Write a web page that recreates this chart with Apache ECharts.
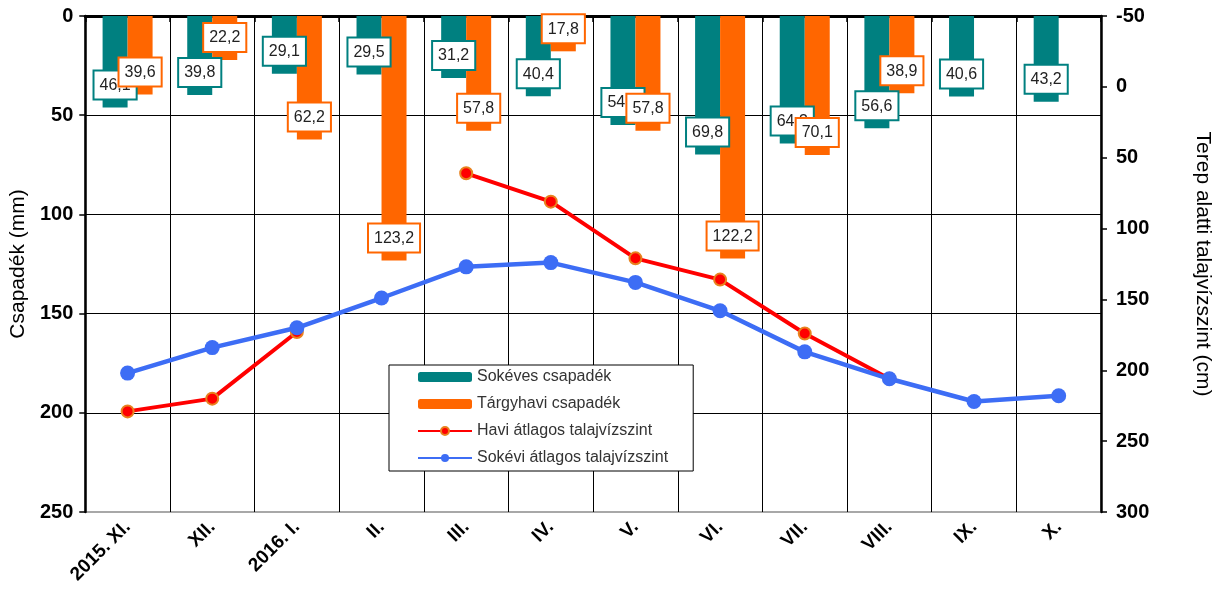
<!DOCTYPE html>
<html>
<head>
<meta charset="utf-8">
<script src="https://cdn.jsdelivr.net/npm/echarts@6/dist/echarts.min.js"></script>
<style>html,body{margin:0;padding:0;background:#fff}#c{width:1227px;height:598px}</style>
</head>
<body>
<div id="c"></div>
<script>
const categories = ['2015. XI.', 'XII.', '2016. I.', 'II.', 'III.', 'IV.', 'V.', 'VI.', 'VII.', 'VIII.', 'IX.', 'X.'];
const sokevesCsapadek = [46.1, 39.8, 29.1, 29.5, 31.2, 40.4, 54.9, 69.8, 64.3, 56.6, 40.6, 43.2];
const targyhaviCsapadek = [39.6, 22.2, 62.2, 123.2, 57.8, 17.8, 57.8, 122.2, 70.1, 38.9, null, null];
const haviTalajviz = [229, 220, 173, null, 61, 81, 121, 136, 174, 206, null, null];
const sokeviTalajviz = [202, 184, 170, 149, 127, 124, 138, 158, 187, 206, 222, 218];
const leftTicks = [0, 50, 100, 150, 200, 250];
const rightTicks = [-50, 0, 50, 100, 150, 200, 250, 300];

const FONT = 'Liberation Sans, Arial, sans-serif';
const fmt = p => (p.value == null ? '' : Number(p.value).toFixed(1).replace('.', ','));
const barLabel = (color) => ({
  show: true, position: 'insideBottom', distance: 9, formatter: fmt,
  backgroundColor: '#fff', borderColor: color, borderWidth: 2,
  padding: [6, 5, 5, 5], color: '#222', fontSize: 16, fontFamily: FONT
});

const chart = echarts.init(document.getElementById('c'));
chart.setOption({
  animation: false,
  backgroundColor: '#fff',
  textStyle: { fontFamily: FONT },
  grid: { left: 84, right: 126, top: 16, bottom: 86, show: true, borderColor: '#a8a8a8', borderWidth: 2 },
  legend: {
    orient: 'vertical', left: 389, top: 365,
    itemWidth: 54, itemHeight: 10, itemGap: 11,
    padding: [4, 25, 5, 28],
    borderColor: '#000', borderWidth: 1, backgroundColor: '#fff',
    textStyle: { fontSize: 16, color: '#333', fontFamily: FONT },
    data: ['Sokéves csapadék', 'Tárgyhavi csapadék', 'Havi átlagos talajvízszint', 'Sokévi átlagos talajvízszint']
  },
  xAxis: {
    type: 'category', data: categories,
    axisLine: { lineStyle: { color: '#000', width: 3 } },
    axisTick: { show: true, length: 6, lineStyle: { color: '#000', width: 1.5 } },
    splitLine: { show: true, showMinLine: false, showMaxLine: false, lineStyle: { color: '#000', width: 1 } },
    axisLabel: { rotate: 45, fontSize: 19, fontWeight: 'bold', color: '#000', margin: 12, fontFamily: FONT }
  },
  yAxis: [
    {
      type: 'value', inverse: true, min: leftTicks[0], max: leftTicks[leftTicks.length - 1], interval: 50,
      position: 'left',
      name: 'Csapadék (mm)', nameLocation: 'middle', nameGap: 53,
      nameTextStyle: { fontSize: 21, color: '#000', fontFamily: FONT },
      axisLine: { show: true, lineStyle: { color: '#000', width: 2.5 } },
      axisTick: { show: true, length: 6, lineStyle: { color: '#000', width: 1.5 } },
      splitLine: { show: true, showMinLine: false, showMaxLine: false, lineStyle: { color: '#000', width: 1 } },
      axisLabel: { fontSize: 20, fontWeight: 'bold', color: '#000', margin: 12, fontFamily: FONT }
    },
    {
      type: 'value', inverse: true, min: rightTicks[0], max: rightTicks[rightTicks.length - 1], interval: 50,
      position: 'right',
      name: 'Terep alatti talajvízszint (cm)', nameLocation: 'middle', nameGap: 91, nameRotate: -90,
      nameTextStyle: { fontSize: 21, color: '#000', fontFamily: FONT },
      axisLine: { show: true, lineStyle: { color: '#000', width: 2.5 } },
      axisTick: { show: true, length: 6, lineStyle: { color: '#000', width: 1.5 } },
      splitLine: { show: false },
      axisLabel: { fontSize: 20, fontWeight: 'bold', color: '#000', margin: 15, fontFamily: FONT }
    }
  ],
  series: [
    {
      name: 'Sokéves csapadék', type: 'bar', yAxisIndex: 0, data: sokevesCsapadek,
      barWidth: 25, barGap: '0%', itemStyle: { color: '#008080' },
      label: barLabel('#008080')
    },
    {
      name: 'Tárgyhavi csapadék', type: 'bar', yAxisIndex: 0, data: targyhaviCsapadek,
      barWidth: 25, barGap: '0%', itemStyle: { color: '#FF6600' },
      label: barLabel('#FF6600')
    },
    {
      name: 'Havi átlagos talajvízszint', type: 'line', yAxisIndex: 1, data: haviTalajviz,
      connectNulls: false, symbol: 'circle', symbolSize: 12,
      lineStyle: { color: '#FF0000', width: 4 },
      itemStyle: { color: '#FF0000', borderColor: '#E8821E', borderWidth: 2 }
    },
    {
      name: 'Sokévi átlagos talajvízszint', type: 'line', yAxisIndex: 1, data: sokeviTalajviz,
      symbol: 'circle', symbolSize: 15,
      lineStyle: { color: '#3D6DF5', width: 4.5 },
      itemStyle: { color: '#3D6DF5' }
    }
  ]
});
</script>
</body>
</html>
